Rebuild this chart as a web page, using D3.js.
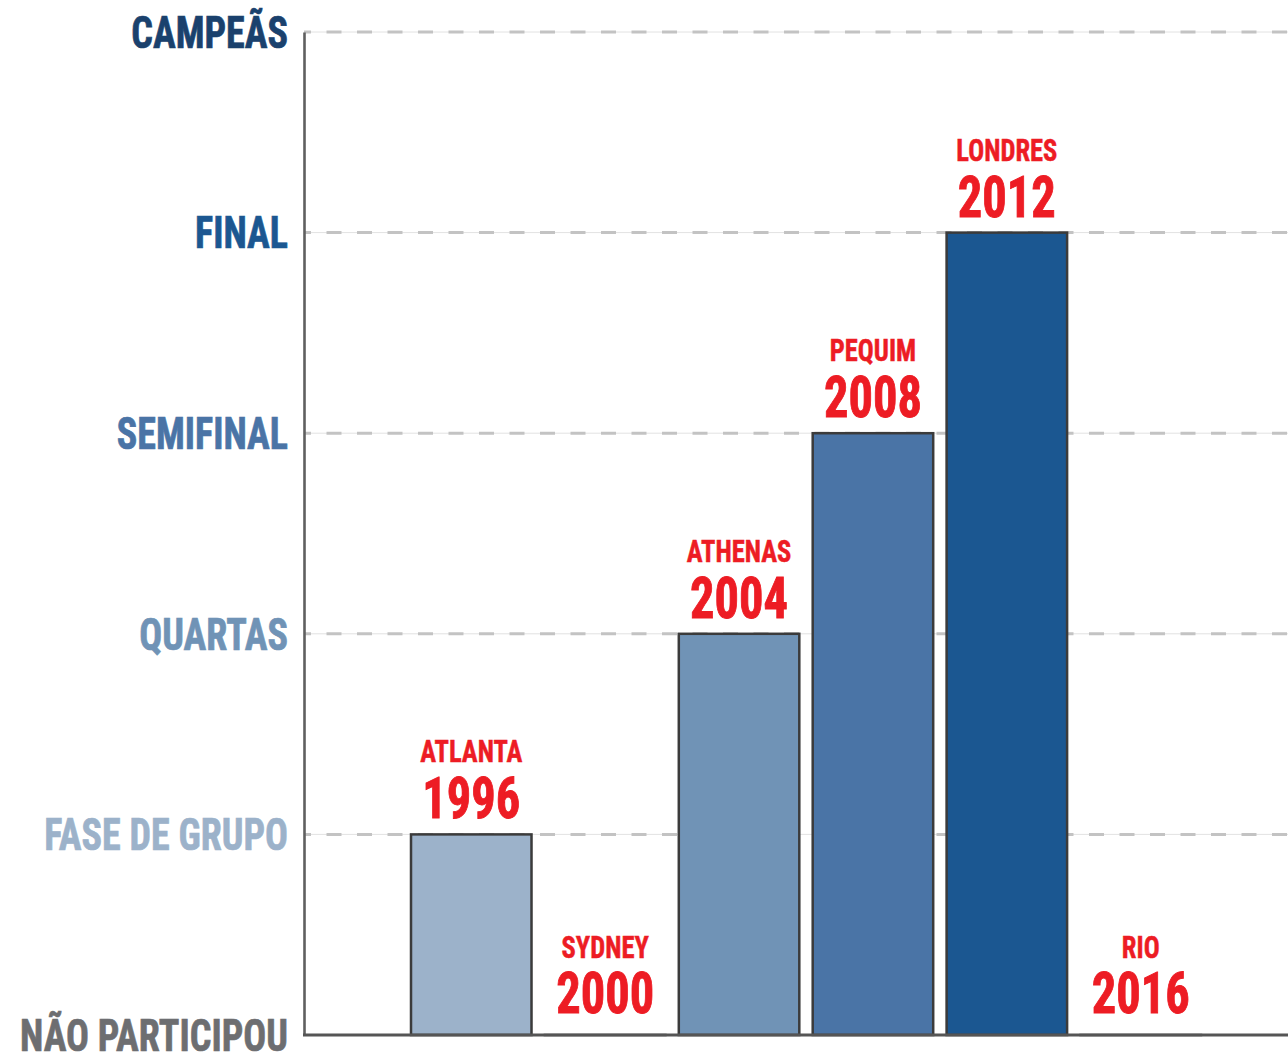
<!DOCTYPE html>
<html><head><meta charset="utf-8">
<script src="https://cdn.jsdelivr.net/npm/d3@7"></script>
<style>body{margin:0;background:#fff;overflow:hidden}</style>
</head><body><svg id="c" width="1288" height="1055"></svg>
<script>
// ---- data ----
const stages = ["NÃO PARTICIPOU","FASE DE GRUPO","QUARTAS","SEMIFINAL","FINAL","CAMPEÃS"];
const stageColors = ["#6d6e71","#9cb2ca","#7093b6","#4a74a6","#1b5791","#1a416d"];
const cities = ["ATLANTA","SYDNEY","ATHENAS","PEQUIM","LONDRES","RIO"];
const years = ["1996","2000","2004","2008","2012","2016"];
const results = [1,0,2,3,4,0];

const FONT = "'Liberation Sans Narrow','Roboto Condensed','DejaVu Sans Condensed','Liberation Sans',sans-serif";
const RED = "#ed1c24";
const svg = d3.select("#c");
const data = years.map((y,i)=>({year:y, city:cities[i], v:results[i]}));

const left = 304, right = 1288;
const y = d3.scaleLinear().domain([0,5]).range([1035,32]);
const x = d3.scaleBand().domain(years).range([411,1201]).paddingInner(0.1).paddingOuter(0);

// gridlines
const grid = svg.append("g");
const gv = d3.range(1,6);
grid.selectAll("line.thin").data(gv).join("line").attr("class","thin")
  .attr("x1",left).attr("x2",right).attr("y1",d=>y(d)).attr("y2",d=>y(d))
  .attr("stroke","#e2e2e2").attr("stroke-width",1);
grid.selectAll("line.dash").data(gv).join("line").attr("class","dash")
  .attr("x1",left).attr("x2",right).attr("y1",d=>y(d)).attr("y2",d=>y(d))
  .attr("stroke","#c3c3c3").attr("stroke-width",3)
  .attr("stroke-dasharray","15,15.5").attr("stroke-dashoffset",8);

// bars
svg.append("g").selectAll("rect").data(data).join("rect")
  .attr("x",d=>x(d.year)).attr("width",x.bandwidth())
  .attr("y",d=>y(d.v)).attr("height",d=>Math.max(0.01,y(0)-y(d.v)))
  .attr("fill",d=>stageColors[d.v])
  .attr("stroke","#3b3b3b").attr("stroke-width",2.5);

// left axis
const ax = svg.append("g").attr("transform",`translate(${left},0)`)
  .call(d3.axisLeft(y).tickValues(d3.range(0,6)).tickFormat(i=>stages[i]).tickSize(0).tickPadding(16));
ax.select(".domain").attr("stroke","#5f5f5f").attr("stroke-width",2.6);
const axText = ax.selectAll(".tick text")
  .attr("font-family",FONT).attr("font-weight","bold").attr("font-size",45)
  .attr("fill",d=>stageColors[d]).attr("stroke",d=>stageColors[d]).attr("stroke-width",0.7)
  .attr("dy","0.34em");
let refW = 1;
axText.each(function(d){ if(d===0) refW = this.getComputedTextLength(); });
const f1 = 268/refW;
axText.attr("transform",`scale(${f1},1)`).attr("x",-16/f1);

// bottom baseline
svg.append("line").attr("x1",left-1).attr("x2",right).attr("y1",y(0)).attr("y2",y(0))
  .attr("stroke","#555").attr("stroke-width",3);

// labels
const lab = svg.append("g").selectAll("g").data(data).join("g")
  .attr("transform",d=>`translate(${x(d.year)+x.bandwidth()/2},${y(d.v)})`);
const cityT = lab.append("text").text(d=>d.city)
  .attr("font-family",FONT).attr("font-weight","bold").attr("font-size",32)
  .attr("fill",RED).attr("stroke",RED).attr("stroke-width",0.5).attr("text-anchor","middle");
const yearT = lab.append("text").text(d=>d.year)
  .attr("font-family",FONT).attr("font-weight","bold").attr("font-size",57)
  .attr("fill",RED).attr("stroke",RED).attr("stroke-width",0.9).attr("text-anchor","middle");
const f2 = 102/cityT.filter((d,i)=>i===0).node().getComputedTextLength();
const f3 = 98/yearT.filter((d,i)=>i===0).node().getComputedTextLength();
cityT.attr("transform",d=>`translate(0,${d.v===0?-77:-72}) scale(${f2},1)`);
yearT.attr("transform",d=>`translate(0,${d.v===0?-22:-16}) scale(${f3},1)`);
</script></body></html>
